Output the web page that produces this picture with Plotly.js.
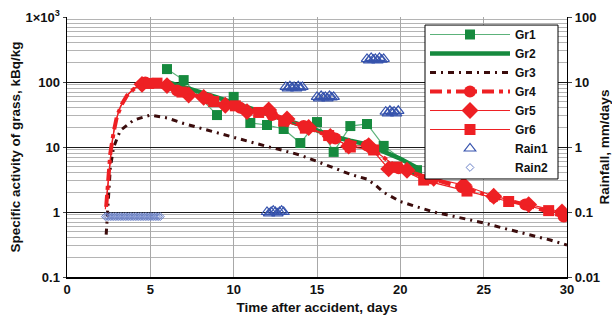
<!DOCTYPE html>
<html>
<head>
<meta charset="utf-8">
<script src="https://cdn.plot.ly/plotly-3.0.1.min.js"></script>
<style>html,body{margin:0;padding:0;background:#fff;}#chart{width:612px;height:324px;}</style>
</head>
<body>
<div id="chart"></div>
<script>
// ---- data ----
const gr1Time  = [6.0, 7.0, 9.0, 10.0, 11.0, 12.0, 13.0, 14.0, 15.0, 16.0, 17.0, 18.0, 19.0, 21.0];
const gr1Value = [158, 107, 31, 59, 23.4, 21.8, 18.9, 11.5, 24.2, 8.4, 21, 22.6, 10.4, 4.4];

const gr2Time  = [6, 7, 8, 9, 10, 11, 12, 13, 14, 15, 16, 17, 18, 19, 20, 21];
const gr2Value = [100, 85, 70, 58, 48, 40, 33, 27, 22, 18, 14.5, 12.5, 11, 8.5, 6.6, 4.8];

const gr3Time  = [2.35, 2.4, 2.45, 2.5, 2.6, 2.8, 3.2, 4.0, 5.0, 6.0, 7.0, 8.0, 9.0, 10.0, 11.0, 12.0, 13.0, 14.0, 15.0, 16.0, 17.0, 18.0, 18.5, 19.0, 20.0, 21.0, 22.0, 23.0, 24.0, 25.0, 26.0, 27.0, 28.0, 29.0, 30.0];
const gr3Value = [0.45, 0.68, 1.0, 1.7, 4.8, 10, 18, 26, 31, 28, 23, 19.5, 16.5, 14, 12, 10.2, 8.8, 7.5, 6.0, 4.8, 3.8, 3.2, 2.6, 2.0, 1.45, 1.2, 1.0, 0.88, 0.78, 0.68, 0.58, 0.5, 0.43, 0.37, 0.31];

const gr4RiseTime  = [2.35, 2.4, 2.5, 2.6, 2.8, 3.0, 3.3, 3.6, 4.0, 4.4, 4.7];
const gr4RiseValue = [1.2, 1.9, 3.5, 8, 17, 30, 46, 62, 78, 90, 98];
const gr4Time  = [4.7, 6.6, 8.5, 10.4, 12.3, 14.2, 16.1, 18.0, 19.9, 21.8, 23.7, 25.6, 27.5, 29.8];
const gr4Value = [98, 74, 55, 40, 31, 21, 13.5, 10.5, 4.7, 3.3, 2.4, 1.7, 1.3, 0.85];

const gr5RiseTime  = [2.35, 2.45, 2.55, 2.7, 2.9, 3.2, 3.6, 4.0, 4.5];
const gr5RiseValue = [1.3, 2.6, 5.5, 12, 24, 42, 62, 78, 92];
const gr5Time  = [4.5, 6.0, 7.3, 8.2, 9.5, 10.8, 12.1, 13.2, 14.5, 15.8, 16.9, 18.1, 19.3, 20.4, 22.0, 23.8, 25.6, 27.7, 29.7];
const gr5Value = [92, 88, 63, 58, 44, 35, 37, 27, 20, 14.5, 10.3, 10.5, 4.6, 4.4, 3.3, 2.6, 1.75, 1.3, 1.0];

const gr6RiseTime  = [2.3, 2.4, 2.5, 2.65, 2.85, 3.1, 3.5, 4.0, 4.5, 4.9];
const gr6RiseValue = [1.1, 1.8, 3.5, 9, 20, 36, 58, 80, 92, 95];
const gr6Time  = [4.9, 5.4, 6.9, 8.8, 10.1, 11.5, 13.0, 14.3, 15.7, 17.0, 18.4, 19.8, 21.4, 24.0, 26.5, 28.9];
const gr6Value = [95, 96, 70, 50, 43, 34, 25, 19.5, 15, 10, 9, 4.9, 3.1, 2.1, 1.45, 1.05];

const rain1Time  = [12.0, 12.125, 12.25, 12.375, 12.5, 12.625, 12.75, 12.875, 13.0,
                    13.125, 13.25, 13.375, 13.5, 13.625, 13.75, 13.875, 14.0, 14.125,
                    15.0, 15.125, 15.25, 15.375, 15.5, 15.625, 15.75, 15.875, 16.0,
                    18.0, 18.125, 18.25, 18.375, 18.5, 18.625, 18.75, 18.875, 19.0,
                    19.125, 19.25, 19.375, 19.5, 19.625, 19.75, 19.875];
const rain1Value = [0.1, 0.095, 0.1, 0.105, 0.1, 0.095, 0.1, 0.105, 0.1,
                    8.4, 8.0, 8.6, 8.2, 8.4, 8.0, 8.6, 8.2, 8.4,
                    5.9, 5.6, 6.1, 5.8, 5.9, 5.6, 6.1, 5.8, 5.9,
                    22.6, 21.5, 23.5, 22, 22.6, 21.5, 23.5, 22, 22.6,
                    3.5, 3.3, 3.6, 3.4, 3.5, 3.3, 3.6];

const rain2Time  = [2.3, 2.4, 2.5, 2.6, 2.7, 2.8, 2.9, 3.0, 3.1, 3.2, 3.3, 3.4, 3.5, 3.6, 3.7, 3.8, 3.9,
                    4.0, 4.1, 4.2, 4.3, 4.4, 4.5, 4.6, 4.7, 4.8, 4.9, 5.0, 5.1, 5.2, 5.3, 5.4, 5.5, 5.6];
const rain2Value = [0.085, 0.085, 0.085, 0.085, 0.085, 0.085, 0.085, 0.085, 0.085, 0.085, 0.085, 0.085,
                    0.085, 0.085, 0.085, 0.085, 0.085, 0.085, 0.085, 0.085, 0.085, 0.085, 0.085, 0.085,
                    0.085, 0.085, 0.085, 0.085, 0.085, 0.085, 0.085, 0.085, 0.085, 0.085];

const leftTickVals  = [0.1, 1, 10, 100, 1000];
const leftTickText  = ['0.1', '1', '10', '100', '1×10<sup>3</sup>'];
const rightTickVals = [0.01, 0.1, 1, 10, 100];
const rightTickText = ['0.01', '0.1', '1', '10', '100'];
const xTickVals = [0, 5, 10, 15, 20, 25, 30];

// ---- styling ----
const GREEN = '#168a3e', GREEN_LINE = '#5cb27a', BROWN = '#3b0c0c', RED = '#ee2024', BLUE = '#3653ad', BLUE2 = '#6b82c8';
const FONT = 'Liberation Sans, Arial, Helvetica, sans-serif';

const minorVals = [];
for (let d = -1; d <= 2; d++) for (let k = 2; k <= 9; k++) minorVals.push(k * Math.pow(10, d));

const traces = [
  {name: 'Gr1', x: gr1Time, y: gr1Value, mode: 'lines+markers',
   line: {color: GREEN_LINE, width: 1.2}, marker: {symbol: 'square', size: 10, color: GREEN}},
  {name: 'Gr2', x: gr2Time, y: gr2Value, mode: 'lines', line: {color: GREEN, width: 4.5}},
  {name: 'Gr3', x: gr3Time, y: gr3Value, mode: 'lines', line: {color: BROWN, width: 3, dash: '6px,5px,2px,5px'}},
  {name: 'Gr4', x: gr4RiseTime, y: gr4RiseValue, mode: 'lines', showlegend: false, legendgroup: 'g4',
   line: {color: RED, width: 4, dash: '12px,5px,4px,5px'}},
  {name: 'Gr4', x: gr4Time, y: gr4Value, mode: 'lines+markers', legendgroup: 'g4',
   line: {color: RED, width: 4, dash: '12px,5px,4px,5px'}, marker: {symbol: 'circle', size: 12, color: RED}},
  {name: 'Gr5', x: gr5RiseTime, y: gr5RiseValue, mode: 'lines', showlegend: false, legendgroup: 'g5',
   line: {color: RED, width: 1.2}},
  {name: 'Gr5', x: gr5Time, y: gr5Value, mode: 'lines+markers', legendgroup: 'g5',
   line: {color: RED, width: 1.2}, marker: {symbol: 'diamond', size: 13, color: RED}},
  {name: 'Gr6', x: gr6RiseTime, y: gr6RiseValue, mode: 'lines', showlegend: false, legendgroup: 'g6',
   line: {color: RED, width: 1.2}},
  {name: 'Gr6', x: gr6Time, y: gr6Value, mode: 'lines+markers', legendgroup: 'g6',
   line: {color: RED, width: 1.2}, marker: {symbol: 'square', size: 11, color: RED}},
  {name: 'Rain1', x: rain1Time, y: rain1Value, yaxis: 'y2', mode: 'markers',
   marker: {symbol: 'triangle-up-open', size: 10, color: BLUE, line: {width: 1.2, color: BLUE}}},
  {name: 'Rain2', x: rain2Time, y: rain2Value, yaxis: 'y2', mode: 'markers',
   marker: {symbol: 'diamond-open', size: 6, color: BLUE2, line: {width: 1, color: BLUE2}}}
];

const tickFont = {family: FONT, size: 13, color: '#111', weight: 'bold'};
const titleFont = {family: FONT, size: 13.5, color: '#111', weight: 'bold'};

const layout = {
  width: 612, height: 324,
  margin: {l: 67, r: 45, t: 17, b: 47},
  paper_bgcolor: '#fff', plot_bgcolor: '#fff',
  showlegend: true,
  legend: {x: 0.716, y: 0.9885, xanchor: 'left', yanchor: 'top', bgcolor: 'rgba(0,0,0,0)',
           borderwidth: 0, font: {family: FONT, size: 12, color: '#111', weight: 'bold'},
           itemwidth: 80, tracegroupgap: 0},
  shapes: [{type: 'rect', xref: 'paper', yref: 'paper', x0: 0.716, x1: 0.982, y0: 0.377, y1: 0.969,
            fillcolor: '#fff', line: {color: '#000', width: 1}, layer: 'above'}],
  xaxis: {range: [0, 30], tickvals: xTickVals, tickfont: tickFont,
          showgrid: true, gridcolor: '#a8a8a8', gridwidth: 1, zeroline: false,
          showline: true, linecolor: '#000', linewidth: 1.5, ticks: '',
          title: {text: 'Time after accident, days', font: titleFont, standoff: 6}},
  yaxis: {type: 'log', range: [-1, 3], tickvals: leftTickVals, ticktext: leftTickText, tickfont: tickFont,
          showgrid: true, gridcolor: '#1a1a1a', gridwidth: 1, zeroline: false,
          showline: true, linecolor: '#000', linewidth: 1.5, ticks: 'outside', ticklen: 3,
          minor: {tickvals: minorVals, showgrid: true, gridcolor: '#b4b4b4', gridwidth: 1, ticks: ''},
          title: {text: 'Specific activity of grass, kBq/kg', font: titleFont, standoff: 2}},
  yaxis2: {type: 'log', range: [-2, 2], overlaying: 'y', side: 'right',
           tickvals: rightTickVals, ticktext: rightTickText, tickfont: tickFont,
           showgrid: false, zeroline: false, showline: true, linecolor: '#000', linewidth: 1.2,
           ticks: 'outside', ticklen: 4,
           title: {text: 'Rainfall, mm/days', font: titleFont, standoff: 4}}
};

Plotly.newPlot('chart', traces, layout, {displayModeBar: false, staticPlot: true});
</script>
</body>
</html>
